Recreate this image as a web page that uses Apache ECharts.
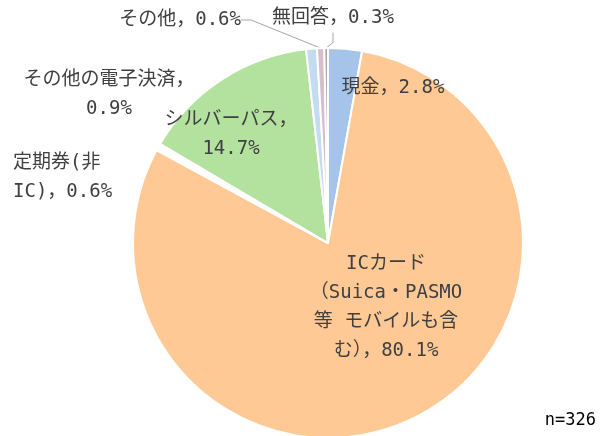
<!DOCTYPE html>
<html>
<head>
<meta charset="utf-8">
<script src="https://cdn.jsdelivr.net/npm/echarts@6/dist/echarts.min.js"></script>
<style>
html,body{margin:0;padding:0;background:#fff;}
#c{width:600px;height:436px;}
</style>
</head>
<body>
<div id="c"></div>
<script>
const categories = ['現金', 'ICカード\n（Suica・PASMO\n等 モバイルも含\nむ）', '定期券(非\nIC)', 'シルバーパス', 'その他の電子決済', 'その他', '無回答'];
const values = [2.8, 80.1, 0.6, 14.7, 0.9, 0.6, 0.3];
const sampleNote = 'n=326';

const colors = ['#a6c4ea', '#ffc996', '#ffffff', '#b3e29f', '#c4dcf2', '#d8bdcc', '#a6a6a6'];
const breakBeforeValue = [false, false, false, true, true, false, false];
const labelSpots = [
  {x: 393, y: 88, align: 'center'},
  {x: 386, y: 308, align: 'center'},
  {x: 13, y: 178, align: 'left'},
  {x: 231, y: 135, align: 'center'},
  {x: 109, y: 95, align: 'center'},
  {x: 241, y: 20, align: 'right'},
  {x: 333, y: 18, align: 'center'}
];
const showLine = [false, false, false, false, false, true, true];

const chart = echarts.init(document.getElementById('c'), null, {renderer: 'canvas'});
const FONT = '"DejaVu Sans Mono", "Noto Sans CJK JP", sans-serif';

chart.setOption({
  animation: false,
  backgroundColor: '#ffffff',
  graphic: [{
    type: 'text', right: 4, bottom: 7,
    style: {text: sampleNote, fontSize: 17, fontFamily: FONT, fill: '#000000'}
  }],
  series: [{
    type: 'pie',
    center: [328, 243],
    radius: [0, 195],
    startAngle: 90,
    clockwise: true,
    avoidLabelOverlap: false,
    itemStyle: {borderColor: '#ffffff', borderWidth: 2},
    label: {
      show: true,
      position: 'outside',
      color: '#404040',
      fontSize: 19,
      lineHeight: 29,
      fontFamily: FONT,
      formatter: p => p.name + '，' + (breakBeforeValue[p.dataIndex] ? '\n' : '') + p.value + '%'
    },
    labelLine: {show: false, lineStyle: {color: '#a6a6a6', width: 1}},
    labelLayout: p => {
      const s = labelSpots[p.dataIndex];
      return {x: s.x, y: s.y, align: s.align, verticalAlign: 'middle'};
    },
    data: categories.map((n, i) => ({
      name: n,
      value: values[i],
      itemStyle: {color: colors[i]},
      label: {align: labelSpots[i].align},
      labelLine: {show: showLine[i], length: 8, length2: 10}
    }))
  }]
});
</script>
</body>
</html>
